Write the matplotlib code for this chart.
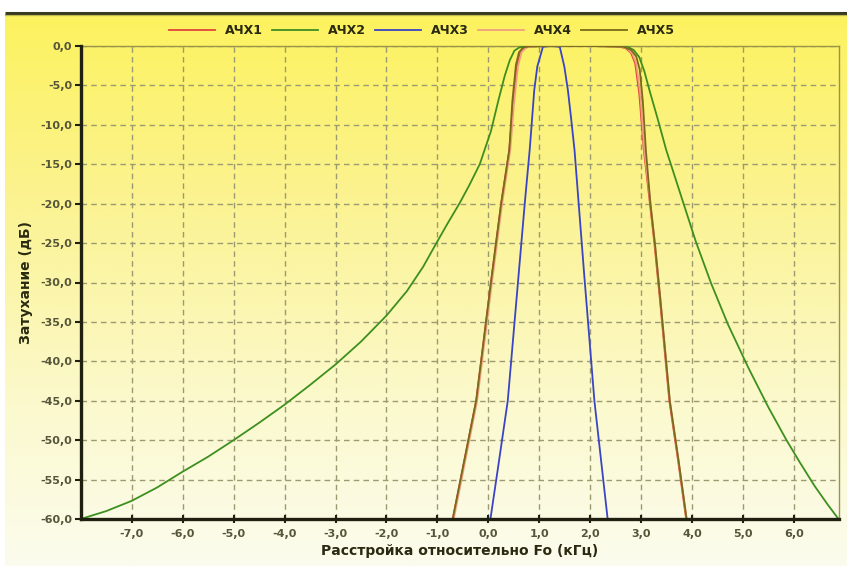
import numpy as np
import matplotlib
matplotlib.use("Agg")
import matplotlib.pyplot as plt
from matplotlib.colors import LinearSegmentedColormap

# Frequency offset (kHz) and attenuation (dB) for each response curve
ach1_x = [-0.70, -0.47, -0.24, 0.05, 0.25, 0.41, 0.48, 0.56, 0.63, 0.72, 0.85, 1.20, 2.00, 2.55, 2.70, 2.80,
          2.88, 2.96, 3.05, 3.17, 3.26, 3.36, 3.55, 3.72, 3.88]
ach1_y = [-60.0, -52.5, -45.0, -30.0, -20.0, -13.2, -7.5, -2.6, -0.8, -0.2, -0.05, 0.0, 0.0, -0.05, -0.3, -0.9,
          -2.2, -6.0, -13.2, -20.0, -25.2, -31.8, -45.0, -52.5, -60.0]

ach2_x = [-8.00, -7.50, -7.00, -6.50, -6.00, -5.50, -5.00, -4.50, -4.00, -3.50, -3.00, -2.50, -2.00, -1.60,
          -1.28, -1.02, -0.80, -0.57, -0.37, -0.17, 0.05, 0.20, 0.32, 0.42, 0.51, 0.60, 0.70,
          1.50, 2.50, 2.70, 2.85, 2.96, 3.06, 3.16, 3.32, 3.49, 3.66, 3.84, 4.07, 4.37,
          4.70, 5.10, 5.50, 5.85, 6.10, 6.40, 6.65, 6.87]
ach2_y = [-60.0, -59.0, -57.7, -56.0, -54.0, -52.1, -50.0, -47.8, -45.5, -43.0, -40.4, -37.5, -34.2, -31.1,
          -28.0, -25.0, -22.5, -20.0, -17.6, -15.0, -10.8, -6.8, -3.8, -1.8, -0.6, -0.2, -0.05,
          0.0, 0.0, 0.0, -0.5, -1.4, -3.2, -5.6, -9.2, -13.2, -16.6, -20.2, -24.8, -30.1,
          -35.3, -40.8, -45.9, -50.0, -52.7, -55.8, -58.1, -60.0]

ach3_x = [0.04, 0.20, 0.38, 0.58, 0.72, 0.81, 0.86, 0.90, 0.96, 1.07, 1.22, 1.40, 1.49, 1.56, 1.62, 1.69,
          1.88, 2.08, 2.21, 2.34]
ach3_y = [-60.0, -53.0, -45.0, -30.0, -19.5, -13.2, -9.0, -5.6, -2.6, -0.1, 0.0, -0.1, -2.6, -5.6, -9.0, -13.2,
          -29.0, -45.0, -52.5, -60.0]

ach4_x = [-0.68, -0.45, -0.22, 0.07, 0.27, 0.43, 0.50, 0.58, 0.65, 0.74, 0.87, 1.20, 2.00, 2.55, 2.72, 2.82,
          2.90, 2.98, 3.06, 3.18, 3.27, 3.37, 3.56, 3.73, 3.89]
ach4_y = [-60.0, -52.5, -45.0, -30.0, -20.0, -13.2, -7.5, -2.6, -0.8, -0.2, -0.05, 0.0, 0.0, -0.05, -0.3, -0.9,
          -2.2, -6.0, -13.2, -20.0, -25.2, -31.8, -45.0, -52.5, -60.0]

ach5_x = [-0.70, -0.47, -0.24, 0.05, 0.25, 0.41, 0.47, 0.54, 0.60, 0.68, 0.80, 1.20, 2.00, 2.65, 2.80, 2.90,
          2.97, 3.03, 3.09, 3.18, 3.27, 3.37, 3.56, 3.73, 3.89]
ach5_y = [-60.0, -52.5, -45.0, -30.0, -20.0, -13.2, -7.0, -2.4, -0.8, -0.2, -0.05, 0.0, 0.0, -0.1, -0.5, -1.3,
          -3.0, -7.0, -13.2, -20.0, -25.2, -31.8, -45.0, -52.5, -60.0]

series_names = ["АЧХ1", "АЧХ2", "АЧХ3", "АЧХ4", "АЧХ5"]
x_ticks = [-7, -6, -5, -4, -3, -2, -1, 0, 1, 2, 3, 4, 5, 6]
y_ticks = [0, -5, -10, -15, -20, -25, -30, -35, -40, -45, -50, -55, -60]

colors = ["#e2453a", "#3d8f1f", "#3a44c4", "#f0a080", "#7a6a1a"]

W, H = 847, 566
fig = plt.figure(figsize=(W / 100, H / 100), dpi=100)
fig.patch.set_facecolor("white")

# Panel background: yellow fading towards a pale cream at the bottom
bg = fig.add_axes([0, 0, 1, 1], zorder=-10)
bg.set_xlim(0, W)
bg.set_ylim(H, 0)
bg.axis("off")
grad = LinearSegmentedColormap.from_list(
    "panel", [(0.0, "#fdf25e"), (0.35, "#fbf393"), (0.7, "#fbf9cc"), (1.0, "#fcfcee")])
g = np.linspace(0, 1, 256).reshape(-1, 1)
bg.imshow(g, cmap=grad, extent=[5, W, H, 13], aspect="auto", zorder=0)
bg.plot([5, W], [12.5, 12.5], color="#3a3a20", lw=2.2, zorder=2, solid_capstyle="butt")
bg.plot([5, W], [14.5, 14.5], color="#8a8540", lw=1.0, alpha=0.5, zorder=2)

left, right, top, bottom = 80.7, 838.5, 46.0, 519.0
ax = fig.add_axes([left / W, 1 - bottom / H, (right - left) / W, (bottom - top) / H])
ax.patch.set_alpha(0)

xs = [ach1_x, ach2_x, ach3_x, ach4_x, ach5_x]
ys = [ach1_y, ach2_y, ach3_y, ach4_y, ach5_y]
order = [3, 4, 0, 1, 2]
lines = {}
for i in order:
    ln, = ax.plot(xs[i], ys[i], color=colors[i], lw=1.3, label=series_names[i], zorder=3 + i * 0.1,
                  solid_joinstyle="round")
    lines[i] = ln

ax.set_xlim(-8.0, 6.87)
ax.set_ylim(-60, 0)
ax.set_xticks(x_ticks)
ax.set_yticks(y_ticks)
fmt = lambda v: f"{v:.1f}".replace(".", ",")
tick_font = dict(family=["DejaVu Sans"], weight="bold", size=8)
ax.set_xticklabels([fmt(v) for v in x_ticks], color="#55553a", **tick_font)
ax.set_yticklabels([fmt(v) for v in y_ticks], color="#55553a", **tick_font)
ax.tick_params(axis="x", direction="inout", length=6, width=1.5, color="#202010", pad=4)
ax.tick_params(axis="y", direction="out", length=4, width=1.5, color="#202010", pad=2)

ax.grid(True, color="#9c9a70", linestyle=(0, (4, 3)), lw=1.0)
ax.set_axisbelow(True)
for s in ["left", "bottom"]:
    ax.spines[s].set_linewidth(2.4)
    ax.spines[s].set_color("#202010")
    ax.spines[s].set_zorder(5)
for s in ["top", "right"]:
    ax.spines[s].set_linewidth(1.0)
    ax.spines[s].set_color("#9a9448")

label_font = dict(family=["DejaVu Sans"], weight="bold", size=10, color="#2a2a10")
ax.set_xlabel("Расстройка относительно Fo (кГц)", labelpad=4, **label_font)
ax.set_ylabel("Затухание (дБ)", labelpad=5, **label_font)

handles = [lines[i] for i in range(5)]
leg = fig.legend(handles, series_names, loc="center", bbox_to_anchor=(0.4985, 1 - 31 / H), ncol=5,
                 frameon=False, handlelength=3.7, handletextpad=0.8, columnspacing=0.7,
                 prop=dict(family=["DejaVu Sans"], weight="bold", size=9))
for t in leg.get_texts():
    t.set_color("#2a2a10")

fig.savefig("out.png", dpi=100)
